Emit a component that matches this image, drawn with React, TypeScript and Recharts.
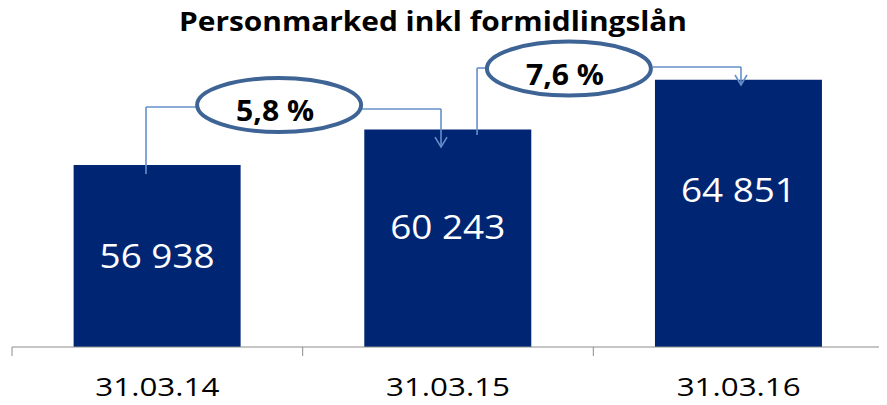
import React from 'react';
import { BarChart, Bar, XAxis, YAxis, LabelList, ReferenceLine, ReferenceDot } from 'recharts';

const categories = ['31.03.14', '31.03.15', '31.03.16'];
const values = [56938, 60243, 64851];
const valueLabels = ['56 938', '60 243', '64 851'];

// growth bubbles, positioned on the numeric x axis (0..3 = the three bands)
const growthLabels = ['5,8 %', '7,6 %'];
const growthX = [0.919, 1.916];
const growthY = [62510, 65900];

// connector polylines [x, y] in axis units; last point of an arrow gets a head
const connectors: { pts: [number, number][]; arrow: boolean }[] = [
  { pts: [[0.461, 56100], [0.461, 62330], [0.64, 62330]], arrow: false },
  { pts: [[1.197, 62140], [1.476, 62140], [1.476, 58600]], arrow: true },
  { pts: [[1.6, 59720], [1.6, 65950], [1.631, 65950]], arrow: false },
  { pts: [[2.205, 66050], [2.508, 66050], [2.508, 64370]], arrow: true },
];

const axisTicks = [0, 0.5, 1, 1.5, 2, 2.5, 3];

const data = categories.map((c, i) => ({ name: c, pos: i + 0.5, value: values[i], label: valueLabels[i] }));

const BAR = '#002673';
const LINE = '#6490cc';
const RING = '#3e6496';
const labelDrop = [103, 110, 122];

const AxisTick = ({ x, y, payload }: any) => {
  const v = payload.value;
  if (Number.isInteger(v)) {
    return <line x1={x} x2={x} y1={y} y2={y + 9} stroke="#8c8c8c" strokeWidth={1} />;
  }
  return (
    <text x={x} y={y + 49} textAnchor="middle" fill="#000" fontFamily="Open Sans" fontSize={26}
      textLength={124} lengthAdjust="spacingAndGlyphs">
      {categories[Math.floor(v)]}
    </text>
  );
};

const ValueLabel = ({ x, y, width, index }: any) => (
  <text x={x + width / 2} y={y + labelDrop[index]} textAnchor="middle" fill="#fff"
    fontFamily="Open Sans" fontSize={32} textLength={115} lengthAdjust="spacingAndGlyphs">
    {valueLabels[index]}
  </text>
);

const Segment = ({ x1, y1, x2, y2, head }: any) => (
  <g>
    <line x1={x1} y1={y1} x2={x2} y2={y2} stroke={LINE} strokeWidth={1.6} />
    {head && (
      <polyline points={`${x2 - 6},${y2 - 10} ${x2},${y2} ${x2 + 6},${y2 - 10}`} fill="none"
        stroke={LINE} strokeWidth={1.6} />
    )}
  </g>
);

const Bubble = (i: number) => ({ cx, cy }: any) => (
  <g>
    <ellipse cx={cx} cy={cy} rx={82} ry={27} fill="#fff" stroke={RING} strokeWidth={4} />
    <text x={cx - 4} y={cy + 16} textAnchor="middle" fill="#000" fontFamily="Open Sans"
      fontWeight="bold" fontSize={28} textLength={78} lengthAdjust="spacingAndGlyphs">
      {growthLabels[i]}
    </text>
  </g>
);

export default function App() {
  return (
    <div style={{ position: 'relative', width: 879, height: 397 }}>
      <BarChart width={879} height={397} data={data} barCategoryGap="21.2%"
        margin={{ top: 16.5, right: 3, left: 4, bottom: 0 }}>
        <XAxis xAxisId="cat" dataKey="name" hide height={0} />
        <XAxis xAxisId="num" dataKey="pos" type="number" domain={[0, 3]} allowDataOverflow
          ticks={axisTicks} interval={0} height={58} tickSize={0} tickMargin={0} tickLine={false}
          axisLine={{ stroke: '#8c8c8c', strokeWidth: 1 }} tick={<AxisTick />} />
        <YAxis domain={[40000, 70000]} allowDataOverflow hide />
        <Bar xAxisId="cat" dataKey="value" fill={BAR} isAnimationActive={false}>
          <LabelList dataKey="label" content={<ValueLabel />} />
        </Bar>
        {connectors.flatMap((c, ci) =>
          c.pts.slice(1).map((p, si) => {
            const a = c.pts[si];
            const last = si === c.pts.length - 2;
            return (
              <ReferenceLine key={`c${ci}-${si}`} xAxisId="num" ifOverflow="visible"
                segment={[{ x: a[0], y: a[1] }, { x: p[0], y: p[1] }]}
                shape={(props: any) => <Segment {...props} head={c.arrow && last} />} />
            );
          })
        )}
        {growthLabels.map((g, i) => (
          <ReferenceDot key={g} xAxisId="num" x={growthX[i]} y={growthY[i]} ifOverflow="visible"
            shape={Bubble(i)} />
        ))}
      </BarChart>
      <svg width={879} height={60} style={{ position: 'absolute', left: 0, top: -8, pointerEvents: 'none' }}>
        <text x={425} y={31} textAnchor="middle" fill="#000" fontFamily="Open Sans" fontWeight="bold"
          fontSize={26} textLength={508} lengthAdjust="spacingAndGlyphs">
          Personmarked inkl formidlingslån
        </text>
      </svg>
    </div>
  );
}
